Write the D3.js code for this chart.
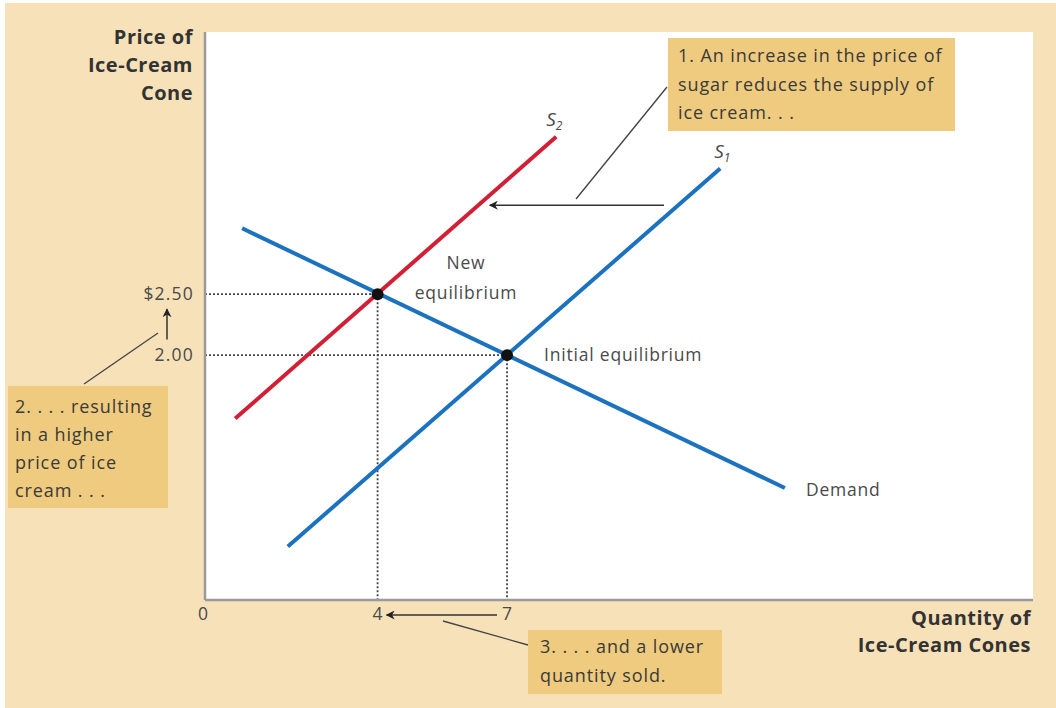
<!DOCTYPE html>
<html><head><meta charset="utf-8">
<script src="https://cdn.jsdelivr.net/npm/d3@7"></script>
<style>
html,body{margin:0;padding:0;background:#fff;}
svg{display:block;font-family:"Open Sans",sans-serif;}
</style></head>
<body>
<svg id="chart" width="1056" height="708"></svg>
<script>
// ---- data ----
const demand = [[0.86, 3.04], [13.44, 0.91]];
const supply1 = [[1.92, 0.43], [11.94, 3.53]];
const supply2 = [[0.70, 1.48], [8.14, 3.79]];
const equilibria = [{q: 7, p: 2.00, name: "initial"}, {q: 4, p: 2.50, name: "new"}];
const xTickValues = [0, 4, 7];
const xTickLabels = ["0", "4", "7"];
const yTickValues = [2.50, 2.00];
const yTickLabels = ["$2.50", "2.00"];
const yAxisTitle = ["Price of", "Ice-Cream", "Cone"];
const xAxisTitle = ["Quantity of", "Ice-Cream Cones"];
const note1 = ["1. An increase in the price of", "sugar reduces the supply of", "ice cream. . ."];
const note2 = ["2. . . . resulting", "in a higher", "price of ice", "cream . . ."];
const note3 = ["3. . . . and a lower", "quantity sold."];

const svg = d3.select("#chart");
const W = 1056, H = 708;
const x = d3.scaleLinear().domain([0, 19.19]).range([205, 1033]);
const y = d3.scaleLinear().domain([0, 4.65]).range([599, 32]);

const beige = "#F6E1B9", boxFill = "#EECB7E", textDark = "#3a3a3a", textGray = "#4a4a4a";

// background
svg.append("rect").attr("x", 5).attr("y", 3).attr("width", W - 5).attr("height", H - 3).attr("fill", beige);
svg.append("rect").attr("x", x(0)).attr("y", y(4.65)).attr("width", x(19.19) - x(0)).attr("height", y(0) - y(4.65)).attr("fill", "#fff");

const defs = svg.append("defs");
defs.append("marker").attr("id", "ah").attr("viewBox", "0 0 10 10").attr("refX", 9).attr("refY", 5)
  .attr("markerWidth", 11).attr("markerHeight", 9).attr("markerUnits", "userSpaceOnUse").attr("orient", "auto")
  .append("path").attr("d", "M0,0 L10,5 L0,10 L3,5 Z").attr("fill", "#222");

// dotted guide lines
const guides = svg.append("g").attr("stroke", "#444").attr("stroke-width", 1.8).attr("stroke-dasharray", "2,2");
equilibria.forEach(e => {
  guides.append("line").attr("x1", x(0)).attr("x2", x(e.q)).attr("y1", y(e.p)).attr("y2", y(e.p));
  guides.append("line").attr("x1", x(e.q)).attr("x2", x(e.q)).attr("y1", y(e.p)).attr("y2", y(0));
});

// axes
const axisCol = "#9a9a9a";
svg.append("line").attr("x1", x(0)).attr("x2", x(0)).attr("y1", y(4.65)).attr("y2", y(0) + 1).attr("stroke", axisCol).attr("stroke-width", 2.5);
svg.append("line").attr("x1", x(0)).attr("x2", x(19.19)).attr("y1", y(0) + 1).attr("y2", y(0) + 1).attr("stroke", axisCol).attr("stroke-width", 2.5);

const tickStyle = sel => sel.attr("font-size", 17.5).attr("fill", textGray).attr("font-family", "Open Sans").attr("letter-spacing", 1.2);

// x tick labels via d3 axis
const xAxis = d3.axisBottom(x).tickValues(xTickValues).tickFormat((d, i) => xTickLabels[i]).tickSize(0).tickPadding(9);
const gx = svg.append("g").attr("transform", `translate(0,${y(0)})`).call(xAxis);
gx.select(".domain").remove();
tickStyle(gx.selectAll("text"));
gx.selectAll(".tick").filter(d => d === 0).select("text").attr("dx", -2);

const yAxis = d3.axisLeft(y).tickValues(yTickValues).tickFormat((d, i) => yTickLabels[i]).tickSize(0).tickPadding(11);
const gy = svg.append("g").attr("transform", `translate(${x(0)},0)`).call(yAxis);
gy.select(".domain").remove();
tickStyle(gy.selectAll("text"));

// curves
const line = d3.line().x(d => x(d[0])).y(d => y(d[1]));
svg.append("path").datum(supply2).attr("d", line).attr("stroke", "#D21F35").attr("stroke-width", 4).attr("fill", "none");
svg.append("path").datum(supply1).attr("d", line).attr("stroke", "#1C72BE").attr("stroke-width", 4).attr("fill", "none");
svg.append("path").datum(demand).attr("d", line).attr("stroke", "#1C72BE").attr("stroke-width", 4).attr("fill", "none");

// equilibrium points
svg.selectAll("circle.eq").data(equilibria).join("circle").attr("class", "eq")
  .attr("cx", d => x(d.q)).attr("cy", d => y(d.p)).attr("r", 6).attr("fill", "#111");

// curve labels
function sLabel(px, py, sub) {
  const t = svg.append("text").attr("x", px).attr("y", py).attr("font-size", 19).attr("font-style", "italic").attr("fill", textGray);
  t.append("tspan").text("S");
  t.append("tspan").attr("font-size", 12).attr("dy", 4).text(sub);
}
sLabel(x(supply2[1][0]) - 10, y(supply2[1][1]) - 11, "2");
sLabel(x(supply1[1][0]) - 6, y(supply1[1][1]) - 11, "1");

const lbl = (px, py, s, anchor) => svg.append("text").attr("x", px).attr("y", py).attr("font-size", 17.5)
  .attr("letter-spacing", 0.8).attr("fill", textGray).attr("text-anchor", anchor || "start").text(s);
lbl(466, 269, "New", "middle");
lbl(466, 299, "equilibrium", "middle");
lbl(x(7) + 37, y(2.0) + 6, "Initial equilibrium");
lbl(x(demand[1][0]) + 21, y(demand[1][1]) + 8, "Demand");

// axis titles
const titleStyle = sel => sel.attr("text-anchor", "end").attr("font-size", 20).attr("font-weight", "bold")
  .attr("letter-spacing", 0.5).attr("fill", "#333");
const yt = titleStyle(svg.append("text"));
yAxisTitle.forEach((s, i) => yt.append("tspan").attr("x", 193).attr("y", 44 + i * 28).text(s));
const xt = titleStyle(svg.append("text"));
xAxisTitle.forEach((s, i) => xt.append("tspan").attr("x", 1031).attr("y", 625 + i * 27).text(s));

// annotation boxes
function box(bx, by, bw, bh, lines, tx, ty, lh) {
  svg.append("rect").attr("x", bx).attr("y", by).attr("width", bw).attr("height", bh).attr("fill", boxFill);
  const t = svg.append("text").attr("font-size", 18).attr("letter-spacing", 0.9).attr("fill", textDark);
  lines.forEach((s, i) => t.append("tspan").attr("x", tx).attr("y", ty + i * lh).text(s));
}
box(668, 38, 287, 93, note1, 678, 62, 28.5);
box(8, 386, 160, 122, note2, 15, 413, 28);
box(528, 630, 194, 64, note3, 540, 653, 28.5);

// callout lines
const thin = (x1, y1, x2, y2) => svg.append("line").attr("x1", x1).attr("y1", y1).attr("x2", x2).attr("y2", y2).attr("stroke", "#444").attr("stroke-width", 1.3);
thin(576, 199, 667, 87);
thin(84, 384, 158, 333);
thin(443, 621, 528, 645);

// arrows
const arrow = (x1, y1, x2, y2) => svg.append("line").attr("x1", x1).attr("y1", y1).attr("x2", x2).attr("y2", y2)
  .attr("stroke", "#333").attr("stroke-width", 1.5).attr("marker-end", "url(#ah)");
arrow(664, y(3.23), x(6.6), y(3.23));
arrow(167, y(1.98) - 18, 167, y(2.5) + 15);
arrow(x(7) - 10, y(0) + 16, x(4) + 9, y(0) + 16);
</script>
</body></html>
